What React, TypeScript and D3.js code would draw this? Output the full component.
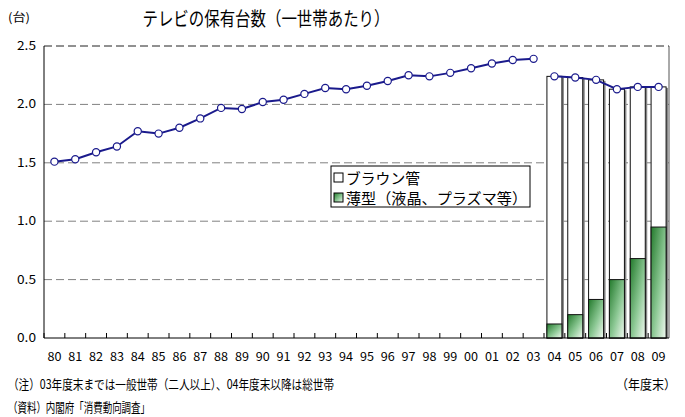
import React from "react";
import * as d3 from "d3";

// 年度末
const years = ["80","81","82","83","84","85","86","87","88","89","90","91","92","93","94","95","96","97","98","99","00","01","02","03","04","05","06","07","08","09"];
// 保有台数（一世帯あたり）
const totalUnits = [1.51,1.53,1.59,1.64,1.77,1.75,1.80,1.88,1.97,1.96,2.02,2.04,2.09,2.14,2.13,2.16,2.20,2.25,2.24,2.27,2.31,2.35,2.38,2.39,2.24,2.23,2.21,2.13,2.15,2.15];
// 04年度以降の内訳
const barYears = ["04","05","06","07","08","09"];
const flatUnits = [0.12,0.20,0.33,0.50,0.68,0.95];
const yTicks = [0, 0.5, 1.0, 1.5, 2.0, 2.5];

const W = 685, H = 417;
const m = { top: 46, right: 16, bottom: 79, left: 44 };
const FONT = "'Noto Sans CJK JP', 'Noto Sans', sans-serif";

export default function App() {
  const x = d3.scaleBand().domain(years).range([m.left, W - m.right]).padding(0);
  const y = d3.scaleLinear().domain([0, 2.5]).range([H - m.bottom, m.top]);
  const cx = (yr: string) => (x(yr) as number) + x.bandwidth() / 2;

  const line = d3.line<number>()
    .x((_, i) => cx(years[i]))
    .y(d => y(d));
  const firstPart = totalUnits.slice(0, 24);
  const secondPart = totalUnits.slice(24);
  const line2 = d3.line<number>()
    .x((_, i) => cx(years[24 + i]))
    .y(d => y(d));

  const bw = 15;
  const x0 = m.left, x1 = W - m.right, y0 = y(0);

  return (
    <svg width={W} height={H} style={{ position: "absolute", left: 0, top: 0, background: "#fff" }}>
      <defs>
        <linearGradient id="grn" x1="0" y1="0" x2="1" y2="1">
          <stop offset="0" stopColor="#237a2c" />
          <stop offset="0.55" stopColor="#8cc894" />
          <stop offset="1" stopColor="#f2faf2" />
        </linearGradient>
      </defs>
      {/* title */}
      <text x={266} y={26} textAnchor="middle" fontFamily={FONT} fontSize={19} textLength={247} lengthAdjust="spacingAndGlyphs">テレビの保有台数（一世帯あたり）</text>
      <text x={8} y={22} fontFamily={FONT} fontSize={12} textLength={22} lengthAdjust="spacingAndGlyphs">(台)</text>

      {/* grid */}
      {yTicks.slice(1, 5).map(t => (
        <line key={t} x1={x0} x2={x1} y1={y(t)} y2={y(t)} stroke="#808080" strokeDasharray="8,4" />
      ))}
      <line x1={x0} x2={x1} y1={y(2.5)} y2={y(2.5)} stroke="#222" strokeDasharray="8,4" />
      <line x1={x1} x2={x1} y1={y(2.5)} y2={y0} stroke="#555" />
      {yTicks.map(t => (
        <text key={t} x={36} y={y(t) + 4} textAnchor="end" fontFamily={FONT} fontSize={12} textLength={19} lengthAdjust="spacingAndGlyphs">{t.toFixed(1)}</text>
      ))}

      {/* bars */}
      {barYears.map((yr, i) => {
        const tot = totalUnits[24 + i];
        const bx = cx(yr) - bw / 2;
        return (
          <g key={yr}>
            <rect x={bx + 2} y={y(tot) + 1} width={bw} height={y0 - y(tot) - 1} fill="#888" />
            <rect x={bx} y={y(tot)} width={bw} height={y0 - y(tot)} fill="#fff" stroke="#111" strokeWidth={1} />
            <rect x={bx} y={y(flatUnits[i])} width={bw} height={y0 - y(flatUnits[i])} fill="url(#grn)" stroke="#111" strokeWidth={1} />
          </g>
        );
      })}

      {/* axes */}
      <line x1={x0} x2={x0} y1={y(2.5)} y2={y0} stroke="#000" />
      <line x1={x0} x2={x1} y1={y0} y2={y0} stroke="#000" />
      {years.map(yr => (
        <line key={"t" + yr} x1={x(yr) as number} x2={x(yr) as number} y1={y0} y2={y0 - 5} stroke="#000" />
      ))}
      {years.map(yr => (
        <text key={"l" + yr} x={cx(yr)} y={361} textAnchor="middle" fontFamily={FONT} fontSize={12} textLength={14} lengthAdjust="spacingAndGlyphs">{yr}</text>
      ))}

      {/* line */}
      <path d={line(firstPart) || ""} fill="none" stroke="#1a1a8c" strokeWidth={2} />
      <path d={line2(secondPart) || ""} fill="none" stroke="#1a1a8c" strokeWidth={2} />
      {totalUnits.map((v, i) => (
        <circle key={"c" + i} cx={cx(years[i])} cy={y(v)} r={3.6} fill="#fff" stroke="#1a1a8c" strokeWidth={1.2} />
      ))}

      {/* legend */}
      <rect x={331} y={166} width={199} height={41} fill="#fff" stroke="#000" />
      <rect x={334} y={173} width={9} height={9} fill="#fff" stroke="#000" />
      <text x={346} y={184} fontFamily={FONT} fontSize={15} textLength={74} lengthAdjust="spacingAndGlyphs">ブラウン管</text>
      <rect x={334} y={193} width={9} height={9} fill="url(#grn)" stroke="#000" />
      <text x={346} y={204} fontFamily={FONT} fontSize={15} textLength={181} lengthAdjust="spacingAndGlyphs">薄型（液晶、プラズマ等）</text>

      {/* notes */}
      <text x={8} y={389} fontFamily={FONT} fontSize={13} textLength={326} lengthAdjust="spacingAndGlyphs">（注）03年度末までは一般世帯（二人以上）、04年度末以降は総世帯</text>
      <text x={676} y={389} textAnchor="end" fontFamily={FONT} fontSize={13} textLength={60} lengthAdjust="spacingAndGlyphs">（年度末）</text>
      <text x={8} y={412} fontFamily={FONT} fontSize={13} textLength={142} lengthAdjust="spacingAndGlyphs">（資料）内閣府「消費動向調査」</text>
    </svg>
  );
}
